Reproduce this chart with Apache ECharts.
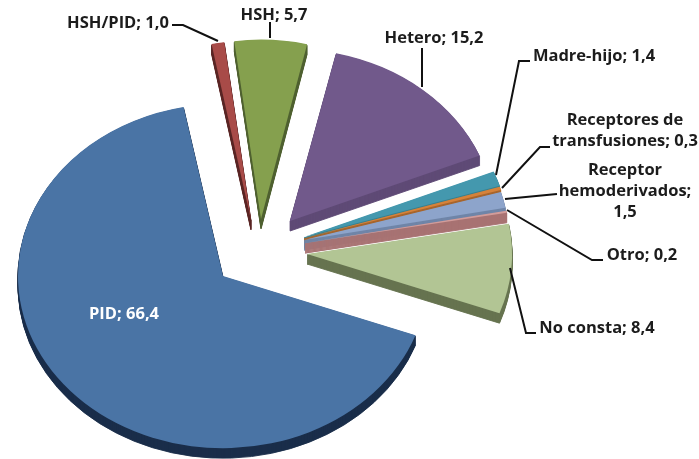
<!DOCTYPE html>
<html>
<head>
<meta charset="utf-8">
<title>Vías de transmisión</title>
<style>
html, body { margin: 0; padding: 0; background: #fff; }
#cn { width: 699px; height: 459px; }
</style>
<script src="https://cdn.jsdelivr.net/npm/echarts@6/dist/echarts.min.js"></script>
</head>
<body>
<div id="cn"></div>
<script>
'use strict';

// clockwise order, starts at Hetero
const arrName = ['Hetero', 'Madre-hijo', 'Receptores de\ntransfusiones', 'Receptor\nhemoderivados', 'Otro', 'No consta', 'PID', 'HSH/PID', 'HSH'];
const arrValue = [15.2, 1.4, 0.3, 1.5, 0.2, 8.4, 66.4, 1.0, 5.7];

// styles
const arrTop = ['#71598B', '#4498AE', '#D6823A', '#8DA4CB', '#D29C9A', '#B2C594', '#4A74A5', '#A84B48', '#85A04E'];
const arrSide = ['#5F4A76', '#38808F', '#A8652C', '#6F85A8', '#A87272', '#667350', '#1A2E4A', '#5A2524', '#4F6030'];
const arrApex = [[290, 221], [304, 237], [304, 238], [304, 240], [305, 243], [307, 254], [223, 276], [251, 220], [261, 219]];
const arrSquash = [0.84, 0.84, 0.84, 0.84, 0.84, 0.84, 0.84, 0.875, 0.875];
const arrSep = ['; ', '; ', '; ', ';\n', '; ', '; ', '; ', '; ', '; '];
const arrLabelPos = [[434, 38], [594, 56], [625, 131], [625, 191], [642, 255], [597, 328], [124, 314], [118, 23], [274, 15]];
const arrLeader = [
    [[422, 48], [422, 87]],
    [[530, 61], [519, 61], [496, 175]],
    [[550, 147], [540, 147], [502, 188]],
    [[557, 194], [505, 199]],
    [[603, 260], [592, 260], [507, 210]],
    [[536, 333], [526, 333], [510, 268]],
    [],
    [[172, 25], [183, 25], [218, 41]],
    [[270, 22], [270, 38]]
];

const START = 13;
const RX = 205;
const DEPTH = 10;

const total = _sum(arrValue);
let acc = START;
const arrAngle = arrValue.map(v => {
    const a = acc;
    acc += v / total * 360;
    return [a, acc];
});

function _sum(arr) {
    return arr.reduce((a, b) => a + b, 0);
}

function sector(i, color, dy, z, stroke) {
    const deg = Math.PI / 180;
    return {
        type: 'group',
        x: arrApex[i][0],
        y: arrApex[i][1] + dy,
        scaleY: arrSquash[i],
        children: [{
            type: 'sector',
            z2: z,
            shape: {
                cx: 0,
                cy: 0,
                r0: 0,
                r: RX,
                startAngle: (arrAngle[i][0] - 90) * deg,
                endAngle: (arrAngle[i][1] - 90) * deg,
                clockwise: true
            },
            style: { fill: color, stroke: stroke ? color : null, lineWidth: stroke ? 1 : 0 }
        }]
    };
}

function renderSlice(params, api) {
    const i = params.dataIndex;
    const val = api.value(1);
    const children = [];

    for (let d = DEPTH; d >= 1; d--) {
        children.push(sector(i, arrSide[i], d, 1, true)); // stroke closes gaps on thin slices
    }
    children.push(sector(i, arrTop[i], 0, 2, false));

    if (arrLeader[i].length) {
        children.push({
            type: 'polyline',
            z2: 20,
            shape: { points: arrLeader[i] },
            style: { stroke: '#111', lineWidth: 2, fill: null }
        });
    }

    children.push({
        type: 'text',
        z2: 30,
        style: {
            x: arrLabelPos[i][0],
            y: arrLabelPos[i][1],
            text: arrName[i] + arrSep[i] + String(val.toFixed(1)).replace('.', ','),
            align: 'center',
            verticalAlign: 'middle',
            fill: arrName[i] === 'PID' ? '#fff' : '#1c1c1c',
            font: 'bold 16.5px "Open Sans"',
            lineHeight: 21
        }
    });

    return { type: 'group', children: children };
}

const pieChart = echarts.init(document.getElementById('cn'));

pieChart.setOption({
    animation: false,
    backgroundColor: '#fff',
    series: [{
        type: 'custom',
        coordinateSystem: 'none',
        silent: true,
        renderItem: renderSlice,
        data: arrValue.map((v, i) => [i, v])
    }]
});
</script>
</body>
</html>
